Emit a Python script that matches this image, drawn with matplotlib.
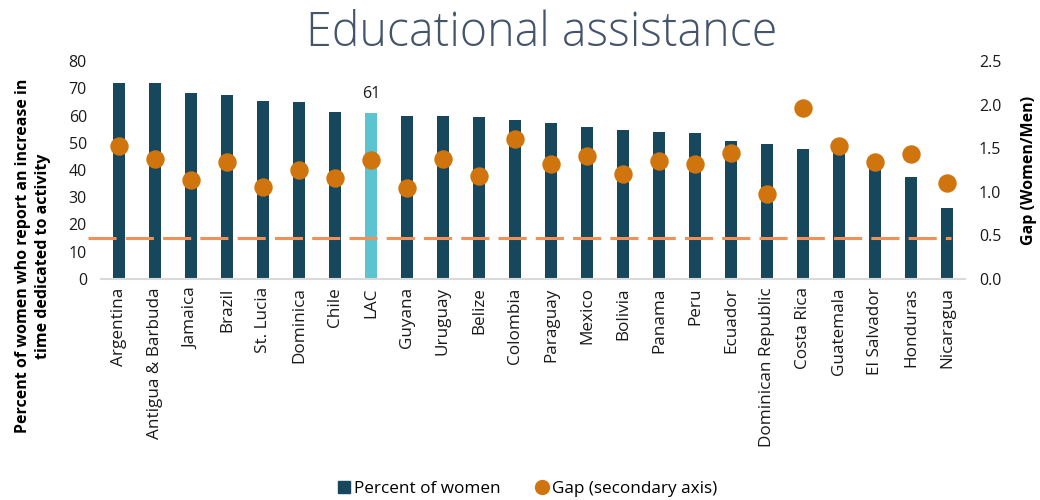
import matplotlib.pyplot as plt
from matplotlib.lines import Line2D
import numpy as np

plt.rcParams['font.family'] = ['Open Sans', 'DejaVu Sans']

countries = ["Argentina", "Antigua & Barbuda", "Jamaica", "Brazil", "St. Lucia",
             "Dominica", "Chile", "LAC", "Guyana", "Uruguay", "Belize", "Colombia",
             "Paraguay", "Mexico", "Bolivia", "Panama", "Peru", "Ecuador",
             "Dominican Republic", "Costa Rica", "Guatemala", "El Salvador",
             "Honduras", "Nicaragua"]
pct_women = [72.0, 71.8, 68.3, 67.6, 65.2, 64.9, 61.3, 61.0, 59.9, 59.8, 59.3,
             58.3, 57.1, 55.6, 54.7, 53.9, 53.4, 50.7, 49.4, 47.6, 47.3, 45.1,
             37.4, 26.0]
gap = [1.53, 1.38, 1.13, 1.34, 1.055, 1.25, 1.16, 1.37, 1.04, 1.38, 1.185, 1.61,
       1.32, 1.415, 1.20, 1.35, 1.32, 1.45, 0.98, 1.96, 1.52, 1.34, 1.43, 1.10]
ref_line = 15  # on the left axis

dark = "#17475c"
lac_col = "#5bc4d0"
dot_col = "#d0740e"
dash_col = "#f0915a"
txt = "#1a1a1a"

fig = plt.figure(figsize=(10.4, 5), dpi=100)
ax = fig.add_axes([0.097, 0.442, 0.831, 0.436])
ax2 = ax.twinx()

x = np.arange(len(countries))
colors = [lac_col if c == "LAC" else dark for c in countries]
ax.bar(x, pct_women, width=0.32, color=colors, zorder=2)
ax.set_ylim(0, 80)
ax.set_xlim(-0.5, len(countries) - 0.5)
ax.set_yticks(range(0, 81, 10))
ax.set_xticks(x)
ax.set_xticklabels(countries, rotation=90)

lac = countries.index("LAC")
ax.text(lac, pct_women[lac] + 4, "61", ha="center", va="bottom", fontsize=11.5,
        color=txt)

ax.plot([-0.87, len(countries) - 0.9], [ref_line, ref_line], color=dash_col,
        lw=2.2, dashes=(9.2, 3.0), clip_on=False, zorder=3)

ax2.scatter(x, gap, s=150, color=dot_col, zorder=4)
ax2.set_ylim(0, 2.5)
ax2.set_yticks(np.arange(0, 2.51, 0.5))
ax2.set_yticklabels([f"{v:.1f}" for v in np.arange(0, 2.51, 0.5)])

for a in (ax, ax2):
    for s in a.spines.values():
        s.set_visible(False)
    a.tick_params(length=0, labelsize=11.5, colors=txt)
ax.spines["bottom"].set_visible(True)
ax.spines["bottom"].set_color("#d9d9d9")
ax.spines["bottom"].set_linewidth(1.5)
ax.tick_params(axis="x", labelsize=12.3, pad=6)
ax.tick_params(axis="y", pad=10)
ax2.tick_params(axis="y", pad=10)

ax.set_ylabel("Percent of women who report an increase in\ntime dedicated to activity",
              fontsize=11.5, fontweight="bold", linespacing=1.3)
ax.yaxis.set_label_coords(-0.058, 0.105)
ax2.set_ylabel("Gap (Women/Men)", fontsize=11.5, fontweight="bold")
ax2.yaxis.set_label_coords(1.065, 0.5)

fig.suptitle("Educational assistance", fontsize=33.5, color="#44546a",
             fontweight="light", x=0.521, y=0.98)

handles = [Line2D([], [], marker="s", ls="", color=dark, markersize=9),
           Line2D([], [], marker="o", ls="", color=dot_col, markersize=10)]
fig.legend(handles, ["Percent of women", "Gap (secondary axis)"], loc="lower center",
           bbox_to_anchor=(0.507, -0.025), ncol=2, frameon=False, fontsize=12.3,
           handlelength=0.8, handletextpad=0.2, columnspacing=2.0)

fig.savefig("out.png")
